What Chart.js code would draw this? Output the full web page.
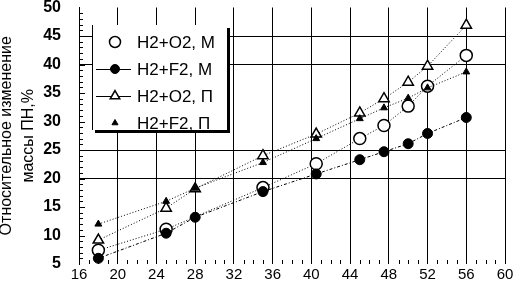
<!DOCTYPE html>
<html>
<head>
<meta charset="utf-8">
<script src="https://cdn.jsdelivr.net/npm/chart.js@4.4.1/dist/chart.umd.min.js"></script>
<style>
    html, body { margin: 0; padding: 0; background: #fff; }
</style>
</head>
<body>
<canvas id="mass_chart" width="514" height="296"></canvas>
<script>

// ----------------- DATA ------------------------------------

let x_values = [18, 25, 28, 35, 40.5, 45, 47.5, 50, 52, 56];

let h2_o2_m = [7.4, 11.1, null, 18.4, 22.6, 27.0, 29.3, 32.7, 36.2, 41.6];
let h2_f2_m = [6.0, 10.4, 13.2, 17.7, 20.8, 23.3, 24.7, 26.1, 27.9, 30.7];
let h2_o2_p = [9.2, 14.8, 18.2, 24.0, 27.8, 31.5, 34.0, 36.9, 39.7, 46.9];
let h2_f2_p = [12.0, 16.0, 18.3, 22.8, 27.0, 30.5, 32.4, 34.1, 35.9, 38.7];

let series_labels = ['H2+O2, M', 'H2+F2, M', 'H2+O2, П', 'H2+F2, П'];
let y_title = ['Относительное изменение', 'массы ПН,%'];
let y_grid_values = [20, 25, 40, 45];

const font_family = '"Liberation Sans", Arial, sans-serif';

function to_points(values) {
    return x_values.map((x, i) => ({ x: x, y: values[i] }));
}


// ----------------- EXTRA DRAWING (minor ticks, legend box) --------------------

const extras_plugin = {
    id: 'extras',
    afterDraw(chart) {
        const ctx = chart.ctx;
        const xs = chart.scales.x;
        const ys = chart.scales.y;
        const area = chart.chartArea;

        ctx.save();
        ctx.strokeStyle = '#000';
        ctx.lineWidth = 1;
        ctx.beginPath();
        // minor ticks on the left axis, pointing inwards
        for (let v = 6; v < 50; v++) {
            const y = Math.round(ys.getPixelForValue(v)) + 0.5;
            const len = (v % 5 === 0) ? 6 : 4;
            ctx.moveTo(area.left, y);
            ctx.lineTo(area.left + len, y);
        }
        // minor ticks on the bottom axis, pointing upwards
        for (let v = 17; v < 60; v++) {
            if (v % 4 === 0) continue;
            const x = Math.round(xs.getPixelForValue(v)) + 0.5;
            ctx.moveTo(x, area.bottom);
            ctx.lineTo(x, area.bottom - 4);
        }
        ctx.stroke();

        // legend box with shadow
        const bx = 92, by = 25, bw = 135, bh = 105;
        ctx.fillStyle = '#000';
        ctx.fillRect(bx + 3, by + 3, bw, bh);
        ctx.fillStyle = '#fff';
        ctx.fillRect(bx, by, bw, bh);
        ctx.beginPath();
        ctx.moveTo(bx + 0.5, by);
        ctx.lineTo(bx + 0.5, by + bh);
        ctx.stroke();

        const rows = [42, 69, 96, 123];
        const mx = 115;
        chart.data.datasets.forEach((ds, i) => {
            const ry = rows[i];
            if (i === 1 || i === 2) {
                ctx.beginPath();
                ctx.moveTo(96, ry + 0.5);
                ctx.lineTo(131, ry + 0.5);
                ctx.stroke();
            }
            ctx.fillStyle = ds.pointBackgroundColor;
            ctx.strokeStyle = '#000';
            ctx.lineWidth = ds.pointBorderWidth;
            Chart.helpers.drawPoint(ctx, {
                pointStyle: ds.pointStyle,
                radius: ds.pointRadius - 0.5,
                rotation: 0,
                borderWidth: ds.pointBorderWidth
            }, mx, ry);
            ctx.lineWidth = 1;
            ctx.fillStyle = '#000';
            ctx.font = '17px ' + font_family;
            ctx.textBaseline = 'middle';
            ctx.textAlign = 'left';
            ctx.fillText(ds.label, 137, ry + 1);
        });
        ctx.restore();
    }
};


// ----------------- THE CHART ------------------------------------

var mass_context = document.getElementById('mass_chart').getContext('2d');
var mass_chart = new Chart(mass_context, {
    type: 'line',
    data: {
        datasets: [
            {
                label: series_labels[0],
                data: to_points(h2_o2_m),
                borderColor: '#000',
                borderWidth: 1,
                borderDash: [1, 2],
                pointStyle: 'circle',
                pointRadius: 6,
                pointBackgroundColor: '#fff',
                pointBorderColor: '#000',
                pointBorderWidth: 1.5,
                spanGaps: true,
                order: 3
            },
            {
                label: series_labels[1],
                data: to_points(h2_f2_m),
                borderColor: '#000',
                borderWidth: 1,
                borderDash: [3, 2, 1, 2],
                pointStyle: 'circle',
                pointRadius: 5,
                pointBackgroundColor: '#000',
                pointBorderColor: '#000',
                pointBorderWidth: 1,
                spanGaps: true,
                order: 1
            },
            {
                label: series_labels[2],
                data: to_points(h2_o2_p),
                borderColor: '#000',
                borderWidth: 1,
                borderDash: [1, 2],
                pointStyle: 'triangle',
                pointRadius: 6,
                pointBackgroundColor: '#fff',
                pointBorderColor: '#000',
                pointBorderWidth: 1.5,
                spanGaps: true,
                order: 4
            },
            {
                label: series_labels[3],
                data: to_points(h2_f2_p),
                borderColor: '#000',
                borderWidth: 1,
                borderDash: [1, 2],
                pointStyle: 'triangle',
                pointRadius: 4,
                pointBackgroundColor: '#000',
                pointBorderColor: '#000',
                pointBorderWidth: 1,
                spanGaps: true,
                order: 2
            }
        ]
    },
    options: {
        responsive: false,
        animation: false,
        devicePixelRatio: 1,
        layout: {
            padding: { top: 7, right: 9, left: 0, bottom: 0 }
        },
        plugins: {
            legend: { display: false },
            tooltip: { enabled: false }
        },
        scales: {
            x: {
                type: 'linear',
                min: 16,
                max: 60,
                ticks: {
                    stepSize: 4,
                    color: '#000',
                    padding: 2,
                    maxRotation: 0,
                    font: { family: font_family, size: 15 }
                },
                grid: {
                    color: '#000',
                    lineWidth: 1,
                    drawTicks: false
                },
                border: { display: false },
                afterFit: function (scale) {
                    scale.height = 32;
                    scale.paddingLeft = 0;
                    scale.paddingRight = 0;
                }
            },
            y: {
                min: 5,
                max: 50,
                ticks: {
                    stepSize: 5,
                    color: '#000',
                    padding: 18,
                    font: { family: font_family, size: 16, weight: 'bold' }
                },
                grid: {
                    color: function (context) {
                        return y_grid_values.includes(context.tick.value) ? '#000' : 'rgba(0,0,0,0)';
                    },
                    lineWidth: 1,
                    drawTicks: false
                },
                border: { display: true, color: '#000', width: 1 },
                title: {
                    display: true,
                    text: y_title,
                    color: '#000',
                    padding: { top: -4, bottom: 0 },
                    font: { family: font_family, size: 16, lineHeight: '22px' }
                },
                afterFit: function (scale) {
                    scale.width = 79;
                    scale.paddingTop = 0;
                    scale.paddingBottom = 0;
                }
            }
        }
    },
    plugins: [extras_plugin]
});
</script>
</body>
</html>
